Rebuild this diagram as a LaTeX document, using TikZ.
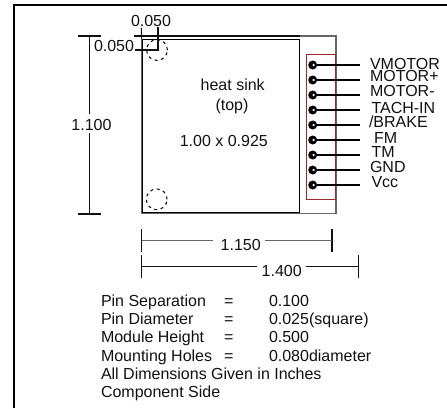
\documentclass[tikz,border=0pt]{standalone}
\usepackage{fontspec}
\setmainfont{Liberation Sans}
\definecolor{inkc}{HTML}{111111}
\definecolor{modgray}{HTML}{666666}
\definecolor{hdrred}{HTML}{9A2A2A}
\tikzset{
  txt/.style={inner sep=0pt,outer sep=0pt,anchor=base west,text=inkc,font=\fontsize{16}{16}\selectfont},
  ctxt/.style={txt,anchor=base},
  dimline/.style={draw=inkc,line width=1.1pt},
  dimgray/.style={draw=modgray,line width=1.5pt},
  hole/.style={draw=black,dash pattern=on 3pt off 3.6pt,line width=1pt},
  lead/.style={draw=black,line width=2.6pt},
  pin/.style={circle,fill=black,minimum size=9pt,inner sep=0pt,outer sep=0pt},
}
\begin{document}
\begin{tikzpicture}[x=1pt,y=-1pt]
\useasboundingbox[fill=white] (0,0) rectangle (447,408);
% page frame
\draw[black,line width=2.2pt] (14.3,408) -- (14.3,5) -- (447,5);
% module outline
\coordinate (mTL) at (141.7,36);
\coordinate (mTR) at (336,36);
\coordinate (mBR) at (336,213.7);
\coordinate (mBL) at (141.7,213.7);
\draw[modgray,line width=1.1pt] (mTL) -- (mTR) -- (mBR) -- (mBL) -- cycle;
\draw[inkc,line width=1.1pt] (134,36) -- (mTL) -- (300,36);
% heat sink
\node[draw=black,line width=1.1pt,minimum width=157.3pt,minimum height=173pt,inner sep=0pt,anchor=north west] (sink) at (141.7,38.5) {};
% red header
\node[draw=hdrred,line width=0.8pt,minimum width=29pt,minimum height=145pt,inner sep=0pt,anchor=north west] (hdr) at (306,54.3) {};
% mounting holes
\node[circle,hole,minimum size=20.8pt,inner sep=0pt] (h1) at (157,50) {};
\node[circle,hole,minimum size=20.8pt,inner sep=0pt] (h2) at (156.7,199.3) {};
% heat sink text
\node[ctxt] (t1) at (232.7,90.7) {heat sink};
\node[ctxt] (t2) at (232,110) {(top)};
\node[ctxt] (t3) at (223.8,146) {1.00 x 0.925};
% pins and labels
\foreach \n/\y/\lx/\ly/\t in {
  a/65/370/69.3/{VMOTOR},
  b/80/370/81.7/{MOTOR+},
  c/95/370/96.7/{MOTOR-},
  d/110/371.5/113.3/{TACH-IN},
  e/125/369/127.3/{{/}BRAKE},
  f/140/374/143.3/{FM},
  g/155/371.5/157.3/{TM},
  h/170/370/172.3/{GND},
  i/185/371.5/187.3/{Vcc}}{
  \node[pin] (p\n) at (312.7,\y) {};
  \coordinate (e\n) at (360,\y);
  \draw[lead] (p\n.center) -- (e\n);
  \fill[white] (313.6,\y) circle (1.3pt);
  \node[txt] (l\n) at (\lx,\ly) {\t};
}
% 0.050 dims
\node[txt] (d1) at (131,26.7) {0.050};
\node[txt] (d2) at (94,51.7) {0.050};
\coordinate (v1) at (141.3,28);
\coordinate (v2) at (158,26.5);
\coordinate (c1) at (158,50);
\coordinate (c2) at (135,50);
\draw[dimline] (v1) -- (sink.north west);
\draw[dimline] (v2) -- (c1) -- (c2);
% 1.100
\node[ctxt] (d3) at (91.5,130.7) {1.100};
\coordinate (a1) at (78,36);
\coordinate (a2) at (101,36);
\coordinate (a3) at (78,214);
\coordinate (a4) at (101,214);
\coordinate (a5) at (89.7,36);
\coordinate (a6) at (89.7,214);
\draw[dimline] (a1) -- (a2);
\draw[dimline] (a3) -- (a4);
\draw[dimline] (a5) -- (89.7,114);
\draw[dimline] (89.7,133) -- (a6);
% 1.150
\node[ctxt] (d4) at (240.7,250) {1.150};
\coordinate (b1) at (141.7,229.3);
\coordinate (b2) at (141.7,251.7);
\coordinate (b3) at (332,229.3);
\coordinate (b4) at (332,251.7);
\draw[dimline] (b1) -- (b2);
\draw[dimline] (b3) -- (b4);
\draw[dimgray] (141.7,240.7) -- (212.7,240.7);
\draw[dimgray] (265,240.7) -- (332,240.7);
% 1.400
\node[ctxt] (d5) at (281.7,276) {1.400};
\coordinate (b5) at (141.7,255);
\coordinate (b6) at (141.7,278);
\coordinate (b7) at (358.7,255);
\coordinate (b8) at (358.7,278);
\draw[dimline] (b5) -- (b6);
\draw[dimline] (b7) -- (b8);
\draw[dimline] (141.7,266.7) -- (257.3,266.7);
\draw[dimline] (305.7,266.7) -- (358.7,266.7);
% notes
\node[txt] (n1) at (101,306) {Pin Separation};
\node[txt] (n1e) at (224,306) {=};
\node[txt] (n1v) at (269,306) {0.100};
\node[txt] (n2) at (101,324.3) {Pin Diameter};
\node[txt] (n2e) at (224,324.3) {=};
\node[txt] (n2v) at (269,324.3) {0.025(square)};
\node[txt] (n3) at (101,342.7) {Module Height};
\node[txt] (n3e) at (224,342.7) {=};
\node[txt] (n3v) at (269,342.7) {0.500};
\node[txt] (n4) at (101,361) {Mounting Holes};
\node[txt] (n4e) at (224,361) {=};
\node[txt] (n4v) at (269,361) {0.080diameter};
\node[txt] (n5) at (101,379) {All Dimensions Given in Inches};
\node[txt] (n6) at (101,397) {Component Side};
\end{tikzpicture}
\end{document}
